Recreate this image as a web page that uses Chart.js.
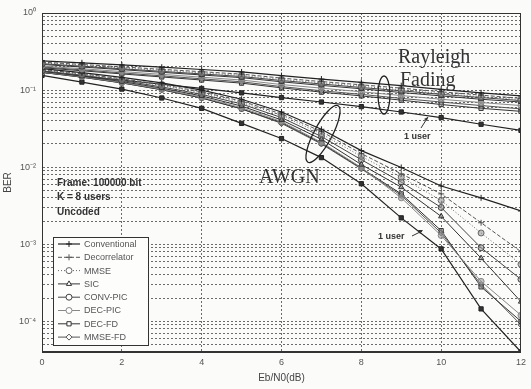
<!DOCTYPE html>
<html><head><meta charset="utf-8">
<script src="https://cdn.jsdelivr.net/npm/chart.js@4/dist/chart.umd.min.js"></script>
<style>html,body{margin:0;padding:0;background:#fbfbfa;}#wrap{width:531px;height:389px;}</style>
</head><body><div id="wrap"><canvas id="c" width="531" height="389"></canvas></div>
<script>
// ---------- data ----------
const ebn0 = [0,1,2,3,4,5,6,7,8,9,10,11,12];
const detectors = ['Conventional','Decorrelator','MMSE','SIC','CONV-PIC','DEC-PIC','DEC-FD','MMSE-FD'];
// AWGN channel, 8 users
const awgnConventional = [0.19,0.168,0.146,0.124,0.1,0.076,0.052,0.031,0.0164,0.0099,0.0057,0.004,0.0027];
const awgnDecorrelator = [0.185,0.163,0.14,0.118,0.095,0.072,0.049,0.029,0.015,0.0082,0.0045,0.0019,0.0008];
const awgnMMSE         = [0.182,0.16,0.137,0.115,0.092,0.069,0.047,0.027,0.0138,0.0074,0.0037,0.0014,0.00055];
const awgnSIC          = [0.175,0.152,0.129,0.106,0.084,0.062,0.041,0.023,0.0108,0.0055,0.0023,0.00066,0.00018];
const awgnConvPIC      = [0.178,0.156,0.133,0.11,0.088,0.066,0.044,0.025,0.0125,0.0064,0.003,0.0009,0.00035];
const awgnDecPIC       = [0.172,0.149,0.126,0.103,0.081,0.059,0.039,0.021,0.0099,0.004,0.0013,0.00033,0.00012];
const awgnDecFD        = [0.17,0.147,0.124,0.101,0.079,0.057,0.038,0.0205,0.0097,0.0045,0.0015,0.00028,0.0001];
const awgnMMSEFD       = [0.17,0.147,0.124,0.101,0.079,0.057,0.037,0.02,0.0095,0.0043,0.0014,0.0003,0.00009];
const awgnOneUser      = [0.155,0.127,0.103,0.079,0.058,0.037,0.0235,0.0133,0.0061,0.0022,0.00087,0.000145,0.00004];
// Rayleigh fading channel, 8 users
const rayConventional = [0.24,0.226,0.212,0.198,0.185,0.172,0.154,0.139,0.126,0.114,0.102,0.092,0.084];
const rayDecorrelator = [0.23,0.215,0.2,0.186,0.173,0.161,0.143,0.129,0.117,0.106,0.095,0.086,0.078];
const rayMMSE         = [0.225,0.209,0.194,0.18,0.167,0.155,0.137,0.124,0.112,0.101,0.09,0.082,0.075];
const raySIC          = [0.215,0.199,0.184,0.17,0.157,0.145,0.128,0.115,0.104,0.093,0.084,0.076,0.07];
const rayConvPIC      = [0.22,0.204,0.189,0.175,0.162,0.15,0.133,0.12,0.108,0.098,0.088,0.08,0.073];
const rayDecPIC       = [0.205,0.189,0.174,0.16,0.147,0.135,0.118,0.106,0.095,0.085,0.076,0.069,0.063];
const rayDecFD        = [0.195,0.178,0.162,0.148,0.135,0.123,0.107,0.094,0.084,0.074,0.065,0.058,0.053];
const rayMMSEFD       = [0.2,0.183,0.167,0.153,0.14,0.128,0.111,0.098,0.088,0.078,0.07,0.063,0.057];
const rayOneUser      = [0.17,0.152,0.135,0.119,0.105,0.092,0.08,0.07,0.061,0.052,0.044,0.036,0.03];
// axis ticks
const xTicks = [0,2,4,6,8,10,12];
const yDecades = [-5,-4,-3,-2,-1,0];
const yMinorMultipliers = [1,2,3,4,5,6,7,8,9];

// ---------- styles ----------
const styles = {
  'Conventional': {color:'#222', dash:[], point:'cross', w:1.2},
  'Decorrelator': {color:'#555', dash:[4,2], point:'cross', w:1},
  'MMSE':         {color:'#666', dash:[1,2], point:'circle', w:1},
  'SIC':          {color:'#333', dash:[], point:'triangle', w:1},
  'CONV-PIC':     {color:'#444', dash:[], point:'circle', w:1},
  'DEC-PIC':      {color:'#888', dash:[], point:'circle', w:1},
  'DEC-FD':       {color:'#333', dash:[], point:'rect', w:1},
  'MMSE-FD':      {color:'#555', dash:[], point:'rectRot', w:1}
};
const awgnSeries = [awgnConventional,awgnDecorrelator,awgnMMSE,awgnSIC,awgnConvPIC,awgnDecPIC,awgnDecFD,awgnMMSEFD];
const raySeries  = [rayConventional,rayDecorrelator,rayMMSE,raySIC,rayConvPIC,rayDecPIC,rayDecFD,rayMMSEFD];

function pts(arr){ return arr.map((v,i)=>({x:ebn0[i], y:v})); }
function mk(label, arr, st, extra){
  return Object.assign({label, data:pts(arr), borderColor:st.color, backgroundColor:'#fbfbfa',
    borderWidth:st.w, borderDash:st.dash, pointStyle:st.point, pointRadius:3, pointBorderWidth:1,
    pointBorderColor:st.color, pointBackgroundColor:'rgba(150,150,150,0.55)', tension:0, fill:false}, extra||{});
}
const datasets = [];
detectors.forEach((d,i)=>{ datasets.push(mk(d, raySeries[i], styles[d])); });
detectors.forEach((d,i)=>{ datasets.push(mk(d, awgnSeries[i], styles[d])); });
const oneStyle = {color:'#222', dash:[], point:'rect', w:1.2};
datasets.push(mk('1 user (Rayleigh)', rayOneUser, oneStyle, {pointBackgroundColor:'#333'}));
datasets.push(mk('1 user (AWGN)', awgnOneUser, oneStyle, {pointBackgroundColor:'#333'}));

const yTickValues = [];
yDecades.forEach(e=>yMinorMultipliers.forEach(m=>{ const v = m*Math.pow(10,e); if (v>=4e-5-1e-12 && v<=1+1e-12) yTickValues.push(v); }));

const supMap = {'-':'\u207B','0':'\u2070','1':'\u00B9','2':'\u00B2','3':'\u00B3','4':'\u2074','5':'\u2075'};
function sup(n){ return String(n).split('').map(c=>supMap[c]||c).join(''); }
function isDecade(v){ const e=Math.round(Math.log10(v)); return Math.abs(v-Math.pow(10,e))/Math.pow(10,e) < 1e-6; }

const gridColor = '#6a6a6a';
const FONT = 'Liberation Sans';

const decor = {
  id:'decor',
  afterDraw(chart){
    const ctx = chart.ctx, a = chart.chartArea;
    ctx.save();
    // frame
    ctx.strokeStyle = '#333'; ctx.lineWidth = 1; ctx.setLineDash([]);
    ctx.strokeRect(a.left+0.5, a.top+0.5, a.right-a.left-1, a.bottom-a.top-1);
    // info text
    ctx.fillStyle = '#333'; ctx.font = 'bold 10px "'+FONT+'"'; ctx.textBaseline='middle'; ctx.textAlign='left';
    ctx.fillText('Frame: 100000 bit', 57, 183);
    ctx.fillText('K = 8 users', 57, 197);
    ctx.fillText('Uncoded', 57, 212);
    // channel labels
    ctx.font = '20px "Liberation Serif"'; ctx.fillStyle='#333'; ctx.textBaseline='alphabetic';
    ctx.fillText('Rayleigh', 398, 63);
    ctx.fillText('Fading', 400, 86);
    ctx.fillText('AWGN', 259, 183);
    // ellipses
    ctx.strokeStyle = '#222'; ctx.lineWidth = 1.3;
    ctx.beginPath(); ctx.ellipse(323, 134, 32, 9, -1.08, 0, Math.PI*2); ctx.stroke();
    ctx.beginPath(); ctx.ellipse(384, 95, 6, 19, 0, 0, Math.PI*2); ctx.stroke();
    // 1 user labels
    ctx.font = 'bold 9px "'+FONT+'"'; ctx.fillStyle='#333'; ctx.textBaseline='middle';
    ctx.fillText('1 user', 404, 137);
    ctx.fillText('1 user', 378, 237);
    ctx.lineWidth = 1; ctx.strokeStyle='#333';
    ctx.beginPath(); ctx.moveTo(421,128); ctx.lineTo(428,117); ctx.stroke();
    ctx.beginPath(); ctx.moveTo(428,117); ctx.lineTo(424,119); ctx.lineTo(427,121); ctx.closePath(); ctx.fillStyle='#333'; ctx.fill();
    ctx.beginPath(); ctx.moveTo(412,236); ctx.lineTo(422,231); ctx.stroke();
    ctx.beginPath(); ctx.moveTo(423,230); ctx.lineTo(418,230); ctx.lineTo(420,234); ctx.closePath(); ctx.fill();
    // legend box
    const x0=53, y0=237, w=95, h=108;
    ctx.fillStyle='#fdfdfc'; ctx.fillRect(x0,y0,w,h);
    ctx.strokeStyle='#333'; ctx.lineWidth=1; ctx.strokeRect(x0+0.5,y0+0.5,w,h);
    detectors.forEach((name,i)=>{
      const st = styles[name]; const y = y0+7+i*13.3;
      ctx.strokeStyle = st.color; ctx.lineWidth = st.w; ctx.setLineDash(st.dash);
      ctx.beginPath(); ctx.moveTo(x0+5,y); ctx.lineTo(x0+27,y); ctx.stroke(); ctx.setLineDash([]);
      ctx.fillStyle='#fff'; ctx.strokeStyle=st.color; ctx.lineWidth=1;
      if (Chart.helpers && Chart.helpers.drawPoint) {
        Chart.helpers.drawPoint(ctx, {pointStyle:st.point, radius:3, borderWidth:1, rotation:0}, x0+16, y);
      }
      ctx.fillStyle='#555'; ctx.font='9px "'+FONT+'"'; ctx.textBaseline='middle'; ctx.textAlign='left';
      ctx.fillText(name, x0+31, y+0.5);
    });
    ctx.restore();
  }
};

new Chart(document.getElementById('c'), {
  type:'line',
  data:{datasets},
  plugins:[decor],
  options:{
    responsive:false, animation:false, devicePixelRatio:1,
    layout:{padding:{top:13,right:2,left:0,bottom:0}},
    plugins:{legend:{display:false}, tooltip:{enabled:false}},
    scales:{
      x:{type:'linear', min:0, max:12,
        afterBuildTicks: s => { s.ticks = xTicks.map(v=>({value:v})); },
        afterFit: s => { s.height = 37; },
        ticks:{color:'#555', font:{family:FONT, size:9}, padding:5, maxRotation:0, autoSkip:false},
        grid:{color: c => (c.tick && (c.tick.value===0||c.tick.value===12)) ? 'rgba(0,0,0,0)' : gridColor, lineWidth:1, drawTicks:false},
        border:{display:true, color:'#333', dash:[2,2]},
        title:{display:true, text:'Eb/N0(dB)', color:'#444', font:{family:FONT, size:10}, padding:{top:0,bottom:5}}
      },
      y:{type:'logarithmic', min:4e-5, max:1,
        afterBuildTicks: s => { s.ticks = yTickValues.map(v=>({value:v})); },
        afterFit: s => { s.width = 42; },
        ticks:{color:'#555', font:{family:FONT, size:9}, padding:6, autoSkip:false,
          callback: v => isDecade(v) ? '10'+sup(Math.round(Math.log10(v))) : ''},
        grid:{color: c => (c.tick && (c.tick.value>=0.999 || c.tick.value<=4.01e-5)) ? 'rgba(0,0,0,0)' : gridColor, lineWidth:1, drawTicks:false},
        border:{display:true, color:'#333', dash:[2,2]},
        title:{display:true, text:'BER', color:'#444', font:{family:FONT, size:10}, padding:{top:2,bottom:0}}
      }
    }
  }
});
</script></body></html>
